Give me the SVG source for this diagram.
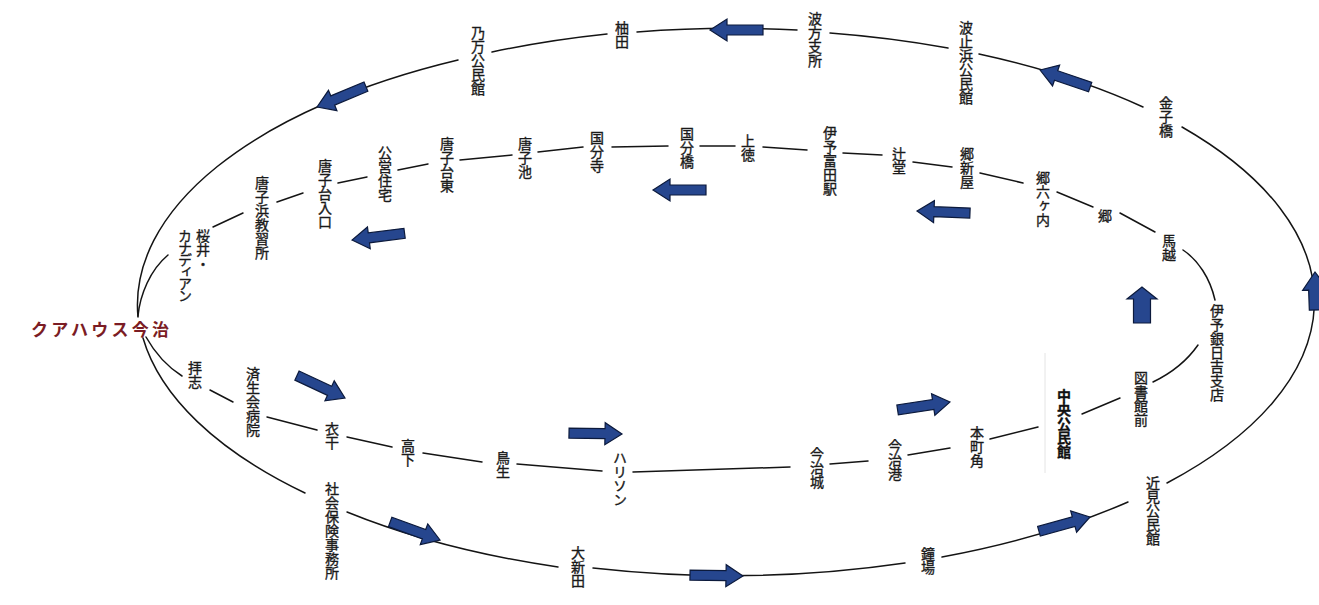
<svg xmlns="http://www.w3.org/2000/svg" width="1319" height="605" viewBox="0 0 1319 605">
<style>
.ln{fill:none;stroke:#141414;stroke-width:1.5;stroke-linecap:round}
.faint{fill:none;stroke:#e4e4e4;stroke-width:1}
.ar{fill:#26468e;stroke:#0c1a3c;stroke-width:1.2;stroke-linejoin:miter}
.lb{font-family:"Noto Sans CJK JP","Noto Sans CJK SC",sans-serif;font-size:14px;fill:#1a1a1a;stroke:#1a1a1a;stroke-width:0.35px;writing-mode:vertical-rl;letter-spacing:0px}
.bd{font-weight:bold;fill:#111;stroke:#111;stroke-width:0.3px}
.start{font-family:"Noto Sans CJK JP","Noto Sans CJK SC",sans-serif;font-size:17px;font-weight:bold;fill:#7b1c24;letter-spacing:3.3px}
</style>
<defs>
<path id="arr" d="M0,0 L-17,-11 L-17,-5 L-53,-5 L-53,5 L-17,5 L-17,11 Z"/>
<path id="arrUp" d="M0,0 L-12,-15 L-12,-8.5 L-36,-8.5 L-36,8.5 L-12,8.5 L-12,15 Z"/>
<path id="arrR" d="M0,0 L-18,-13 L-18,-7 L-38,-7 L-38,7 L-18,7 L-18,13 Z"/>
</defs>
<rect width="1319" height="605" fill="#ffffff"/>
<g id="connectors">
  <!-- outer loop -->
  <path class="ln" d="M138,317 A588,275 0 0,1 458,60"/>
  <path class="ln" d="M492,52 A588,275 0 0,1 607,34"/>
  <path class="ln" d="M637,32 A588,275 0 0,1 797,30"/>
  <path class="ln" d="M830,33 A588,275 0 0,1 948,48"/>
  <path class="ln" d="M979,54 A588,275 0 0,1 1143,107"/>
  <path class="ln" d="M1182,127 A588,275 0 0,1 1167,483"/>
  <path class="ln" d="M1128,502 A588,275 0 0,1 942,557"/>
  <path class="ln" d="M905,563 A588,275 0 0,1 593,568"/>
  <path class="ln" d="M558,567 A588,275 0 0,1 347,512"/>
  <path class="ln" d="M305,493 A588,275 0 0,1 143,338"/>
  <!-- inner loop -->
  <path class="ln" d="M138,316 C140,295 150,270 168,255"/>
  <path class="ln" d="M213,227 L243,213"/>
  <path class="ln" d="M277,202 L303,193"/>
  <path class="ln" d="M338,183 L367,177"/>
  <path class="ln" d="M398,170 L428,164"/>
  <path class="ln" d="M460,160 L512,155"/>
  <path class="ln" d="M538,152 L583,147"/>
  <path class="ln" d="M612,147 L668,146"/>
  <path class="ln" d="M700,146 L735,146"/>
  <path class="ln" d="M763,147 L807,150"/>
  <path class="ln" d="M843,153 L882,155"/>
  <path class="ln" d="M913,162 L952,167"/>
  <path class="ln" d="M980,173 L1023,183"/>
  <path class="ln" d="M1057,192 L1093,207"/>
  <path class="ln" d="M1120,213 L1155,232"/>
  <path class="ln" d="M1183,250 C1198,260 1210,278 1215,300"/>
  <path class="ln" d="M1198,345 Q1182,368 1153,382"/>
  <path class="ln" d="M1120,398 L1082,414"/>
  <path class="ln" d="M1038,427 L990,439"/>
  <path class="ln" d="M950,448 L908,455"/>
  <path class="ln" d="M868,461 L830,464"/>
  <path class="ln" d="M790,467 L633,472"/>
  <path class="ln" d="M602,471 L517,464"/>
  <path class="ln" d="M482,462 L423,453"/>
  <path class="ln" d="M392,447 L347,437"/>
  <path class="ln" d="M317,430 L267,417"/>
  <path class="ln" d="M233,402 L210,390"/>
  <path class="ln" d="M182,376 Q160,362 146,337"/>
  <!-- direction arrows -->
  <use href="#arr" class="ar" transform="translate(317,107) rotate(157.4)"/>
  <use href="#arr" class="ar" transform="translate(710,30) rotate(180)"/>
  <use href="#arr" class="ar" transform="translate(1040,70) rotate(198.8)"/>
  <use href="#arrR" class="ar" transform="translate(1315,272) rotate(-92)"/>
  <use href="#arr" class="ar" transform="translate(1090,517) rotate(-15.6)"/>
  <use href="#arr" class="ar" transform="translate(743,576) rotate(1)"/>
  <use href="#arr" class="ar" transform="translate(440,540) rotate(19.9)"/>
  <use href="#arr" class="ar" transform="translate(352,240) rotate(172.7)"/>
  <use href="#arr" class="ar" transform="translate(653,190) rotate(180)"/>
  <use href="#arr" class="ar" transform="translate(917,211) rotate(182.2)"/>
  <use href="#arrUp" class="ar" transform="translate(1142,287) rotate(-90)"/>
  <use href="#arr" class="ar" transform="translate(950,402) rotate(-8.6)"/>
  <use href="#arr" class="ar" transform="translate(622,434) rotate(1)"/>
  <use href="#arr" class="ar" transform="translate(345,398) rotate(25)"/>
</g>
<g id="scan-mark"><path class="faint" d="M1045,353 L1045,473"/></g>
<g id="n-start"><text class="start" x="31" y="336">クアハウス今治</text></g>
<g id="n-noma"><text class="lb" x="478" y="26">乃万公民館</text></g>
<g id="n-yuda"><text class="lb" x="622" y="21">柚田</text></g>
<g id="n-hakata"><text class="lb" x="815" y="12">波方支所</text></g>
<g id="n-hashihama"><text class="lb" x="966" y="21">波止浜公民館</text></g>
<g id="n-kanako"><text class="lb" x="1166" y="96">金子橋</text></g>
<g id="n-chikami"><text class="lb" x="1153" y="476">近見公民館</text></g>
<g id="n-shoba"><text class="lb" x="928" y="547">鐘場</text></g>
<g id="n-oshinden"><text class="lb" x="578" y="546">大新田</text></g>
<g id="n-shakai"><text class="lb" x="332" y="482">社会保険事務所</text></g>
<g id="n-sakurai"><text class="lb" x="203" y="229">桜井・</text><text class="lb" x="185" y="229" style="letter-spacing:-2px">カナディアン</text></g>
<g id="n-karakohama"><text class="lb" x="262" y="176">唐子浜教習所</text></g>
<g id="n-karakodai-iriguchi"><text class="lb" x="325" y="159">唐子台入口</text></g>
<g id="n-koei"><text class="lb" x="385" y="146">公営住宅</text></g>
<g id="n-karakodai-higashi"><text class="lb" x="447" y="137">唐子台東</text></g>
<g id="n-karakoike"><text class="lb" x="525" y="137">唐子池</text></g>
<g id="n-kokubunji"><text class="lb" x="597" y="131">国分寺</text></g>
<g id="n-kokububashi"><text class="lb" x="687" y="127">国分橋</text></g>
<g id="n-kamitoku"><text class="lb" x="748" y="134">上徳</text></g>
<g id="n-iyotomita"><text class="lb" x="830" y="126">伊予富田駅</text></g>
<g id="n-tsujido"><text class="lb" x="899" y="147">辻堂</text></g>
<g id="n-goshinya"><text class="lb" x="967" y="147">郷新屋</text></g>
<g id="n-goroku"><text class="lb" x="1043" y="171">郷六ヶ内</text></g>
<g id="n-go"><text class="lb" x="1105" y="209">郷</text></g>
<g id="n-magoshi"><text class="lb" x="1169" y="234">馬越</text></g>
<g id="n-iyogin"><text class="lb" x="1217" y="304">伊予銀日吉支店</text></g>
<g id="n-toshokan"><text class="lb" x="1141" y="371">図書館前</text></g>
<g id="n-chuo"><text class="lb bd" x="1064" y="389">中央公民館</text></g>
<g id="n-honmachi"><text class="lb" x="977" y="426">本町角</text></g>
<g id="n-imabariko"><text class="lb" x="895" y="439">今治港</text></g>
<g id="n-imabarijo"><text class="lb" x="817" y="447">今治城</text></g>
<g id="n-harrison"><text class="lb" x="620" y="451">ハリソン</text></g>
<g id="n-torinoo"><text class="lb" x="503" y="451">鳥生</text></g>
<g id="n-koge"><text class="lb" x="408" y="439">高下</text></g>
<g id="n-kinuhoshi"><text class="lb" x="332" y="422">衣干</text></g>
<g id="n-saiseikai"><text class="lb" x="253" y="367">済生会病院</text></g>
<g id="n-haishi"><text class="lb" x="195" y="361">拝志</text></g>
</svg>
